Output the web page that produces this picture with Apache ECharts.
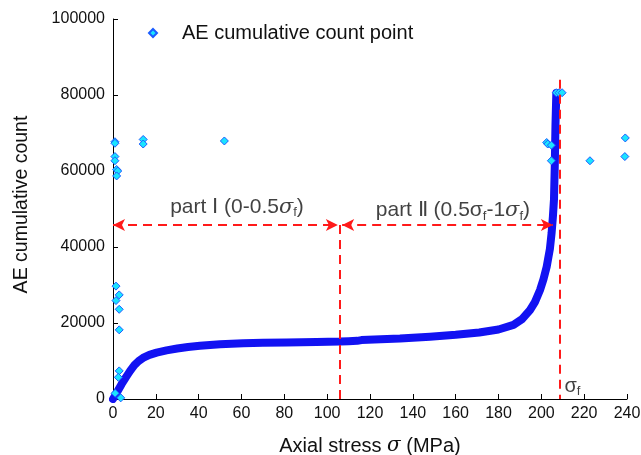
<!DOCTYPE html>
<html><head><meta charset="utf-8">
<script src="https://cdn.jsdelivr.net/npm/echarts@6/dist/echarts.min.js"></script>
<style>html,body{margin:0;padding:0;background:#fff}#c{width:641px;height:455px}</style>
</head><body><div id="c"></div>
<script>
// Curve (AE cumulative count vs axial stress)
const curveStress = [0,1,2,3,4,6,8,10,12,14,17,20.4,25,30,35,40.6,50,60.8,70,81,95,106,110,114,116,125,134,148,160,171,180,187,191,194.7,197,199.4,201,202.5,204,204.8,205.4,205.9,206.3,206.6,207];
const curveCount  = [0,900,1900,2900,3900,5700,7400,8900,10000,10800,11600,12200,12800,13300,13700,14000,14400,14700,14800,14900,15000,15100,15200,15300,15500,15700,15900,16400,16900,17500,18300,19500,21000,23400,25500,28700,31500,34800,39500,43700,48000,52400,62000,72000,80500];
// Scattered AE cumulative count points
const ptStress = [0.9,0.9,0.9,0.9,1.7,2.2,1.7,14.1,14.1,52,1.4,2.9,1.4,2.9,2.9,2.9,2.5,3.6,1.0,207,208.3,209.7,202.5,203,204.7,204.7,222.7,239.2,239];
const ptCount  = [67700,67300,63800,62700,60400,60000,58700,68300,67100,67900,29700,27400,25900,23600,18200,7400,5700,300,1500,80600,80600,80600,67500,67100,66800,62700,62700,68700,63800];
// Annotation geometry (data units)
const sigmaF = 208.7, halfSigma = 106, arrowY = 45800, sigmaTop = 84000;
const xTicks = {min:0, max:240, interval:20};
const yTicks = {min:0, max:100000, interval:20000};

const FONT = 'Liberation Sans, Arial, sans-serif';
const chart = echarts.init(document.getElementById('c'));
const red = '#ff1a1a';
const dashed = {color:red, width:2, type:[9,6]};
const FS = 21;
const subRich = {
  t:{fontSize:FS, fontFamily:FONT, color:'#111', lineHeight:24},
  s:{fontSize:FS, fontFamily:'DejaVu Serif, serif', fontStyle:'italic', color:'#111', lineHeight:24},
  su:{fontSize:20, fontFamily:FONT, color:'#111', lineHeight:24},
  f:{fontSize:13, fontFamily:FONT, color:'#111', lineHeight:13, padding:[11,0,0,0]}
};
chart.setOption({
  animation:false,
  grid:{left:113, right:14, top:19, bottom:56, outerBoundsMode:'none', containLabel:false},
  legend:{data:['AE cumulative count point'], left:143, top:18, itemWidth:8, itemHeight:8,
    textStyle:{fontSize:20, fontFamily:FONT, color:'#111', padding:[0,0,0,20]}},
  xAxis:{type:'value', min:xTicks.min, max:xTicks.max, interval:xTicks.interval,
    name:'Axial stress {i|σ} (MPa)', nameLocation:'middle', nameGap:37,
    nameTextStyle:{fontSize:20, fontFamily:FONT, color:'#111',
      rich:{i:{fontSize:20, fontStyle:'italic', fontFamily:'DejaVu Serif, serif', color:'#111'}}},
    axisLine:{lineStyle:{color:'#000', width:1}}, axisTick:{inside:true, length:5, lineStyle:{color:'#000'}},
    axisLabel:{fontSize:16, fontFamily:FONT, color:'#111', margin:7}, splitLine:{show:false}},
  yAxis:{type:'value', min:yTicks.min, max:yTicks.max, interval:yTicks.interval,
    name:'AE cumulative count', nameLocation:'middle', nameGap:81,
    nameTextStyle:{fontSize:19.5, fontFamily:FONT, color:'#111', padding:[0,0,0,9]},
    axisLine:{show:true, lineStyle:{color:'#000', width:1}}, axisTick:{show:true, inside:true, length:5, lineStyle:{color:'#000'}},
    axisLabel:{fontSize:16, fontFamily:FONT, color:'#111', margin:8, formatter:v=>String(v)}, splitLine:{show:false}},
  series:[
    {name:'curve', type:'line', data:curveStress.map((x,i)=>[x,curveCount[i]]), showSymbol:false, symbol:'none',
     lineStyle:{color:'#1212f2', width:8, cap:'round', join:'round'}, z:2},
    {name:'AE cumulative count point', type:'scatter', symbol:'diamond', symbolSize:8,
     data:ptStress.map((x,i)=>[x,ptCount[i]]),
     itemStyle:{color:'#1ae4ff', borderColor:'#1a5cff', borderWidth:1, opacity:1}, z:3},
    {name:'annot', type:'scatter', symbolSize:0, z:5,
     data:[
       {value:[57.9,50500], label:{show:true, position:'inside', formatter:'{t|part Ⅰ (0-0.5}{s|σ}{f|f}{t|)}', rich:subRich}},
       {value:[158.7,49600], label:{show:true, position:'inside', formatter:'{t|part Ⅱ (0.5σ}{f|f}{t|-1}{s|σ}{f|f}{t|)}', rich:subRich}},
       {value:[214.5,3400], label:{show:true, position:'inside', formatter:'{su|σ}{f|f}', rich:subRich}}
     ],
     markLine:{silent:true, symbol:['none','none'], label:{show:false}, lineStyle:dashed,
       data:[
         [{coord:[0,arrowY], symbol:'arrow', symbolSize:[9,12]},{coord:[halfSigma-1,arrowY], symbol:'arrow', symbolSize:[9,12]}],
         [{coord:[halfSigma+1,arrowY], symbol:'arrow', symbolSize:[9,12]},{coord:[205.4,arrowY], symbol:'arrow', symbolSize:[9,12]}],
         [{coord:[halfSigma,arrowY], symbol:'none'},{coord:[halfSigma,0], symbol:'none'}],
         [{coord:[sigmaF,sigmaTop], symbol:'none'},{coord:[sigmaF,0], symbol:'none'}]
       ]}}
  ]
});
</script></body></html>
